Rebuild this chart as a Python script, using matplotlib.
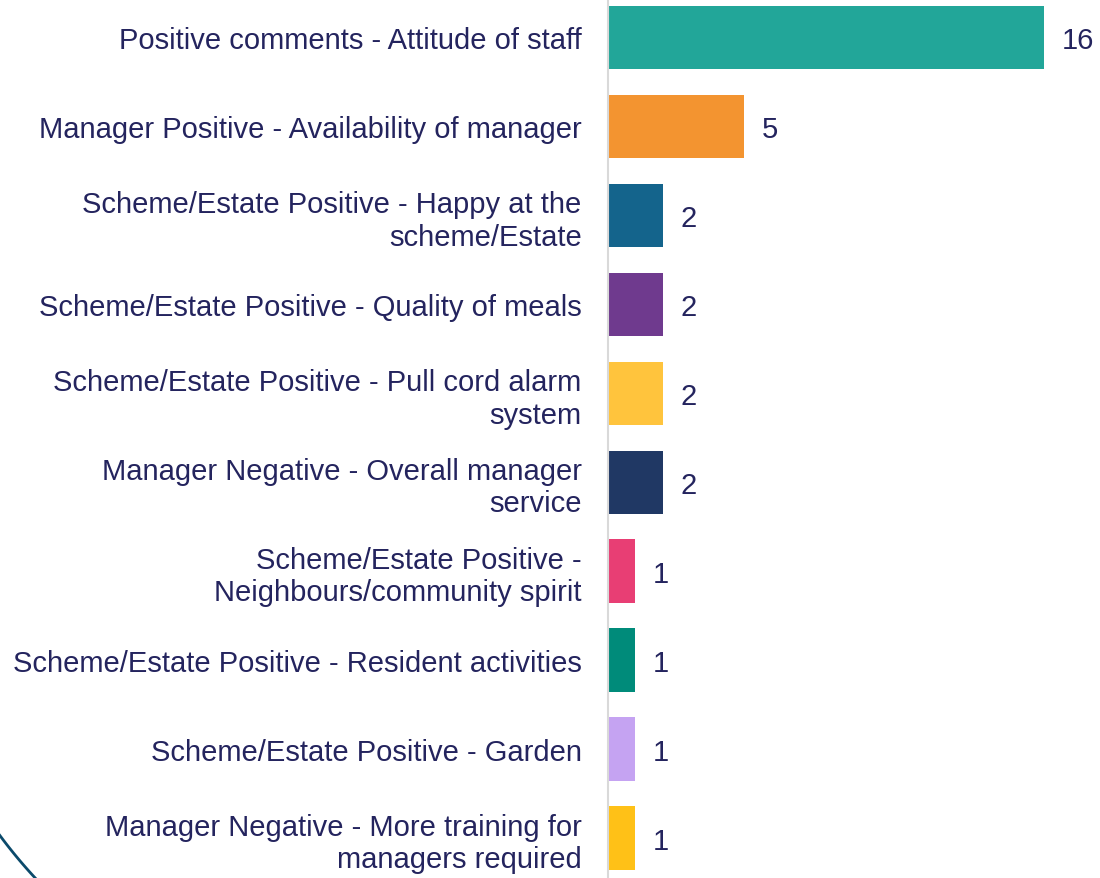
import matplotlib.pyplot as plt
import numpy as np
from matplotlib.lines import Line2D

categories = [
    "Positive comments - Attitude of staff",
    "Manager Positive - Availability of manager",
    "Scheme/Estate Positive - Happy at the\nscheme/Estate",
    "Scheme/Estate Positive - Quality of meals",
    "Scheme/Estate Positive - Pull cord alarm\nsystem",
    "Manager Negative - Overall manager\nservice",
    "Scheme/Estate Positive -\nNeighbours/community spirit",
    "Scheme/Estate Positive - Resident activities",
    "Scheme/Estate Positive - Garden",
    "Manager Negative - More training for\nmanagers required",
]
values = [16, 5, 2, 2, 2, 2, 1, 1, 1, 1]
colors = ["#22a699", "#f39430", "#14648c", "#6f3a8e", "#ffc43d",
          "#203864", "#e83e74", "#008b7a", "#c5a3f2", "#ffc117"]

text_color = "#24245e"
plt.rcParams['font.family'] = ['Liberation Sans', 'DejaVu Sans']

W, H = 1100, 879
fig = plt.figure(figsize=(W / 100, H / 100), dpi=100)
ax = fig.add_axes([608 / W, 0, 1 - 608 / W, 1])

y = np.arange(len(values))
ax.barh(y, values, height=0.71, color=colors)
ax.set_ylim(9.45, -0.43)
ax.set_xlim(0, (W - 608) / 27.25)

ax.set_yticks(y)
ax.set_yticklabels(categories, fontsize=21, color=text_color, linespacing=1.2)
ax.tick_params(axis='y', length=0, pad=19)
ax.set_xticks([])

for yi, v in zip(y, values):
    ax.text(v + 0.65, yi, str(v), va='center_baseline', ha='left',
            fontsize=21, color=text_color)

for s in ['top', 'right', 'bottom']:
    ax.spines[s].set_visible(False)
ax.spines['left'].set_color('#d9d9d9')
ax.spines['left'].set_linewidth(1.5)

# decorative arc in the lower-left corner
cx, cy, r = 400, 540, 498
t = np.linspace(np.pi * 0.74, np.pi * 0.81, 100)
px = cx + r * np.cos(t)
py = cy + r * np.sin(t)
fig.add_artist(Line2D(px / W, 1 - py / H, color='#0b4a6b', linewidth=2,
                      transform=fig.transFigure))

fig.savefig('out.png', dpi=100)
